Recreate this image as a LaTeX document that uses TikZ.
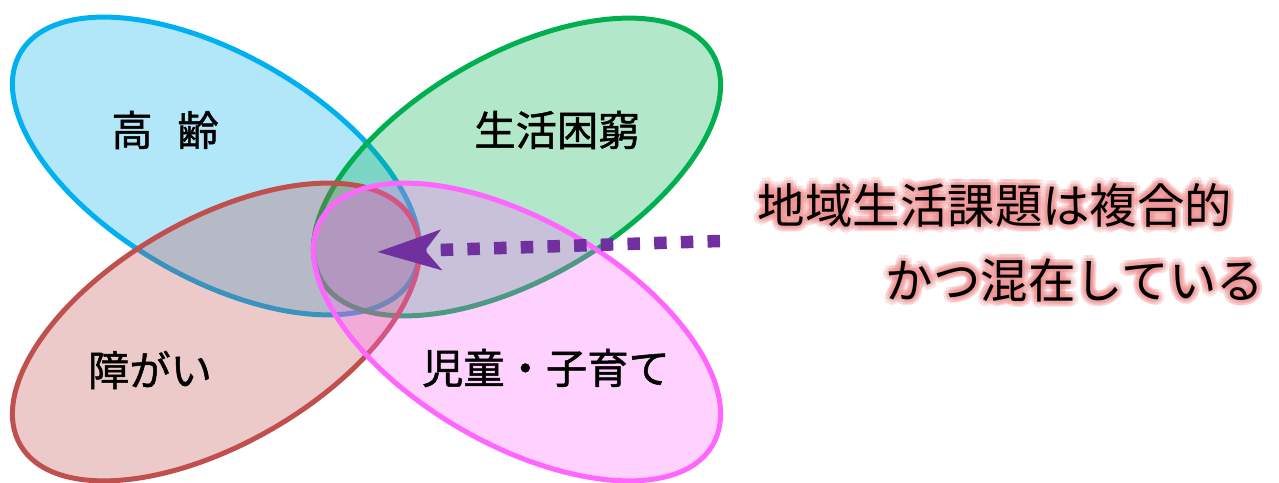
\documentclass[tikz,border=0pt]{standalone}
\usepackage{fontspec}
\newfontfamily\cjk{Noto Sans CJK JP}
\newfontfamily\cjkb[FakeBold=1.2]{Noto Sans CJK JP}
\usetikzlibrary{shapes.geometric,arrows.meta,calc}
\definecolor{bluec}{HTML}{00B0F0}
\definecolor{greenc}{HTML}{00B050}
\definecolor{redc}{HTML}{C0504D}
\definecolor{pinkc}{HTML}{FF66FF}
\definecolor{purplec}{HTML}{7030A0}
\definecolor{glowc}{HTML}{EE8A8A}
\tikzset{
  venn/.style={ellipse, draw=#1, fill=#1, fill opacity=0.3, line width=0.1cm,
    inner sep=0pt, minimum width=9.04cm, minimum height=4.48cm},
  label/.style={font=\cjkb\fontsize{23.5}{26}\selectfont, text=black},
  note/.style={font=\cjk\fontsize{27}{30}\selectfont, text=black},
  glow/.style={note, text=glowc, opacity=0.22},
  dotarrow/.style={draw=purplec, line width=0.25cm, line cap=butt,
    dash pattern=on 0.25cm off 0.284cm,
    -{Stealth[length=1.26cm, width=0.78cm, inset=0.3cm]}}
}
\begin{document}
\begin{tikzpicture}[x=0.02cm, y=0.02cm]
  \useasboundingbox (0,0) rectangle (1279,483);
  \node[venn=bluec, rotate=-30] (elder) at (216,317) {};
  \node[venn=greenc, rotate=30] (poverty) at (517,316) {};
  \node[venn=redc, rotate=30] (disab) at (216,151) {};
  \node[venn=pinkc, rotate=-30] (child) at (517,151) {};
  \node[label] (elderlbl) at (165,353) {高\hspace{0.6em}齢};
  \node[label] (povertylbl) at (557,353) {生活困窮};
  \node[label] (disablbl) at (150,113) {障がい};
  \node[label] (childlbl) at (546,115) {児童・子育て};
  \foreach \r in {3,6} {
    \foreach \a in {0,30,...,330} {
      \node[glow] (glowa-\r-\a) at ($(995,278)+(\a:\r)$) {地域生活課題は複合的};
      \node[glow] (glowb-\r-\a) at ($(1075,203)+(\a:\r)$) {かつ混在している};
    }
  }
  \node[note] (notea) at (995,278) {地域生活課題は複合的};
  \node[note] (noteb) at (1075,203) {かつ混在している};
  \coordinate (arrowfrom) at (720,242);
  \coordinate (arrowto) at (377,231);
  \draw[dotarrow] (arrowfrom) -- (arrowto);
\end{tikzpicture}
\end{document}
